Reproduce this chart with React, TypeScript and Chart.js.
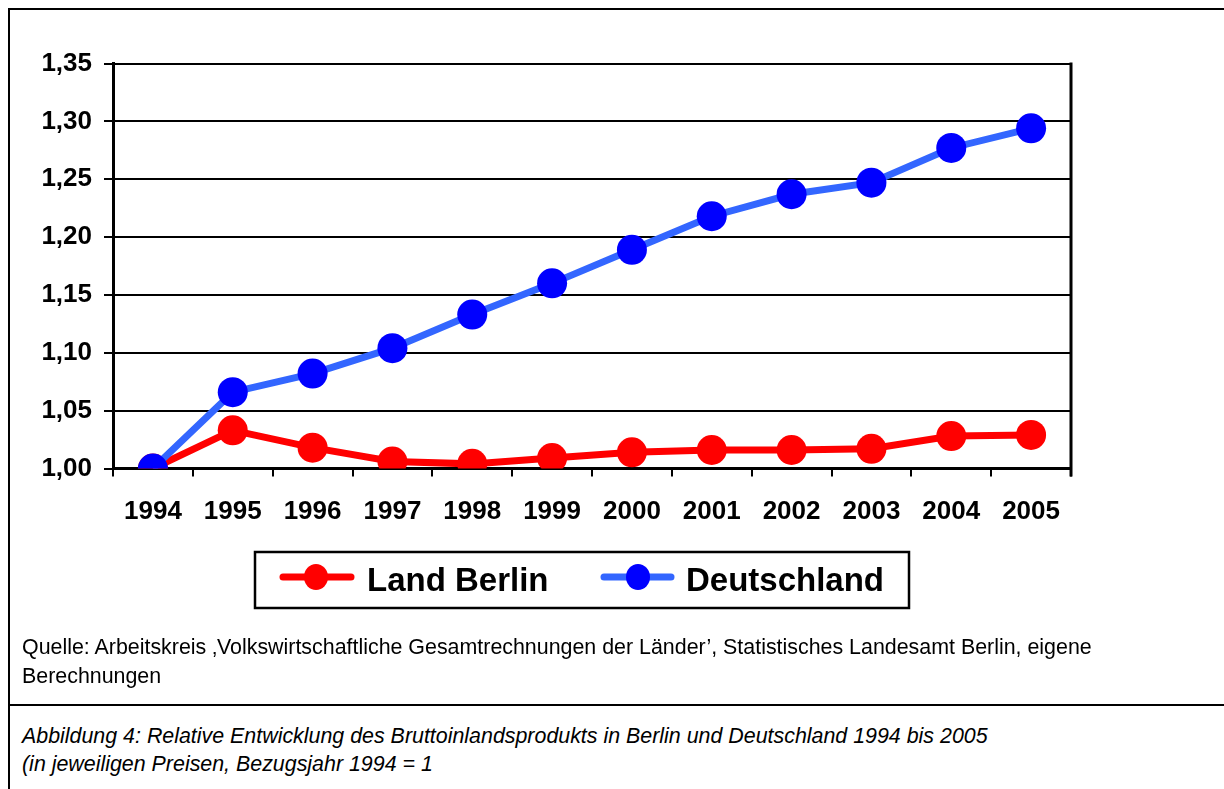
import React, { useEffect, useRef } from "react";
import { Chart, registerables } from "chart.js";

Chart.register(...registerables);

const years = ["1994", "1995", "1996", "1997", "1998", "1999", "2000", "2001", "2002", "2003", "2004", "2005"];
const berlin = [1.0, 1.033, 1.018, 1.006, 1.004, 1.009, 1.014, 1.016, 1.016, 1.017, 1.028, 1.029];
const deutschland = [1.0, 1.066, 1.082, 1.104, 1.133, 1.16, 1.189, 1.218, 1.237, 1.247, 1.277, 1.294];
const seriesNames = ["Land Berlin", "Deutschland"];
const lineColors = ["#FF0000", "#3366FF"];
const pointColors = ["#FF0000", "#0000FF"];
const yMin = 1.0;
const yMax = 1.35;
const yStep = 0.05;

const FONT = '"Liberation Sans", Arial, Helvetica, sans-serif';

const frameAndLegend = {
  id: "frameAndLegend",
  beforeDatasetsDraw(chart: any) {
    const { ctx, chartArea } = chart;
    ctx.save();
    ctx.strokeStyle = "#000";
    ctx.lineWidth = 3;
    ctx.beginPath();
    ctx.moveTo(chartArea.right, chartArea.top - 1);
    ctx.lineTo(chartArea.right, chartArea.bottom + 8);
    ctx.stroke();
    ctx.restore();
  },
  afterDraw(chart: any) {
    const { ctx } = chart;
    ctx.save();
    const bx = 255, by = 552, bw = 654, bh = 56;
    ctx.strokeStyle = "#000";
    ctx.lineWidth = 2.5;
    ctx.strokeRect(bx, by, bw, bh);
    const items = [
      { x0: 283, x1: 351, cx: 316, tx: 367 },
      { x0: 604, x1: 671, cx: 638, tx: 686 },
    ];
    const cy = 577;
    chart.data.datasets.forEach((ds: any, i: number) => {
      const it = items[i];
      ctx.strokeStyle = ds.borderColor;
      ctx.lineWidth = 7;
      ctx.lineCap = "round";
      ctx.beginPath();
      ctx.moveTo(it.x0, cy);
      ctx.lineTo(it.x1, cy);
      ctx.stroke();
      ctx.fillStyle = ds.pointBackgroundColor;
      ctx.beginPath();
      ctx.ellipse(it.cx, cy, 12, 13, 0, 0, Math.PI * 2);
      ctx.fill();
      ctx.fillStyle = "#000";
      ctx.font = `bold 33px ${FONT}`;
      ctx.textBaseline = "alphabetic";
      ctx.textAlign = "left";
      ctx.fillText(ds.label, it.tx, 591);
    });
    ctx.restore();
  },
};

function ChartCanvas() {
  const ref = useRef<HTMLCanvasElement | null>(null);
  useEffect(() => {
    if (!ref.current) return;
    const chart = new Chart(ref.current, {
      type: "line",
      data: {
        labels: years,
        datasets: [
          {
            label: seriesNames[0],
            data: berlin,
            borderColor: lineColors[0],
            backgroundColor: lineColors[0],
            pointBackgroundColor: pointColors[0],
            pointBorderColor: pointColors[0],
            borderWidth: 7,
            pointRadius: 15,
            pointBorderWidth: 0,
            tension: 0,
            order: 1,
          },
          {
            label: seriesNames[1],
            data: deutschland,
            borderColor: lineColors[1],
            backgroundColor: lineColors[1],
            pointBackgroundColor: pointColors[1],
            pointBorderColor: pointColors[1],
            borderWidth: 7,
            pointRadius: 15,
            pointBorderWidth: 0,
            tension: 0,
            order: 0,
          },
        ],
      },
      options: {
        responsive: false,
        animation: false,
        devicePixelRatio: 1,
        layout: { padding: { left: 0, top: 63.5, right: 153, bottom: 176.5 } },
        plugins: {
          legend: { display: false },
          tooltip: { enabled: false },
        },
        scales: {
          x: {
            type: "category",
            offset: true,
            grid: {
              offset: true,
              drawOnChartArea: false,
              drawTicks: true,
              tickLength: 8,
              color: "#000",
              lineWidth: 2,
            },
            border: { display: true, color: "#000", width: 3 },
            ticks: {
              color: "#000",
              font: { family: FONT, size: 26, weight: "bold" },
              padding: 20,
              maxRotation: 0,
              autoSkip: false,
            },
            afterFit(scale: any) {
              scale.height = 60;
            },
          },
          y: {
            min: yMin,
            max: yMax,
            grid: {
              color: "#000",
              lineWidth: 2,
              drawTicks: true,
              tickLength: 9,
            },
            border: { display: true, color: "#000", width: 3 },
            ticks: {
              stepSize: yStep,
              color: "#000",
              font: { family: FONT, size: 26, weight: "bold" },
              padding: 12,
              callback: (v: any) => Number(v).toFixed(2).replace(".", ","),
            },
            afterFit(scale: any) {
              scale.width = 113;
            },
          },
        },
      },
      plugins: [frameAndLegend],
    });
    return () => chart.destroy();
  }, []);
  return (
    <canvas
      ref={ref}
      width={1224}
      height={705}
      style={{ position: "absolute", left: 0, top: 0, width: 1224, height: 705 }}
    />
  );
}

export default function App() {
  const textStyle: React.CSSProperties = {
    position: "absolute",
    left: 22,
    fontFamily: FONT,
    fontSize: 21.4,
    color: "#000",
    whiteSpace: "nowrap",
  };
  return (
    <div style={{ position: "absolute", left: 0, top: 0, width: 1224, height: 789, background: "#fff", overflow: "hidden" }}>
      <ChartCanvas />
      <div style={{ position: "absolute", left: 8, top: 8, width: 1216, height: 2, background: "#000" }} />
      <div style={{ position: "absolute", left: 8, top: 8, width: 2, height: 781, background: "#000" }} />
      <div style={{ position: "absolute", left: 8, top: 704, width: 1216, height: 2, background: "#000" }} />
      <div style={{ ...textStyle, top: 633, lineHeight: "29px" }}>
        Quelle: Arbeitskreis ‚Volkswirtschaftliche Gesamtrechnungen der Länder’, Statistisches Landesamt Berlin, eigene
        <br />
        Berechnungen
      </div>
      <div style={{ ...textStyle, top: 722, lineHeight: "28px", fontStyle: "italic" }}>
        Abbildung 4: Relative Entwicklung des Bruttoinlandsprodukts in Berlin und Deutschland 1994 bis 2005
        <br />
        (in jeweiligen Preisen, Bezugsjahr 1994 = 1
      </div>
    </div>
  );
}
